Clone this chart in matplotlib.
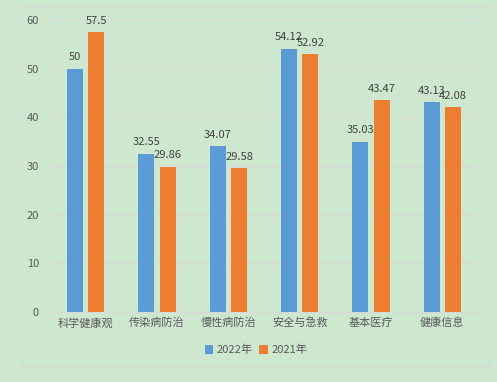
import matplotlib
matplotlib.use("Agg")
import matplotlib.pyplot as plt
from matplotlib.patches import Rectangle
import numpy as np

plt.rcParams['font.family'] = ['Noto Sans CJK SC', 'DejaVu Sans']

categories = ["科学健康观", "传染病防治", "慢性病防治", "安全与急救", "基本医疗", "健康信息"]
series_names = ["2022年", "2021年"]
values_2022 = [50, 32.55, 34.07, 54.12, 35.03, 43.13]
values_2021 = [57.5, 29.86, 29.58, 52.92, 43.47, 42.08]
labels_2022 = ["50", "32.55", "34.07", "54.12", "35.03", "43.13"]
labels_2021 = ["57.5", "29.86", "29.58", "52.92", "43.47", "42.08"]
yticks = [0, 10, 20, 30, 40, 50, 60]

bg = "#CDE8CF"
blue = "#5B9BD5"
orange = "#ED7D31"
txt = "#404040"
grid = "#D9D9D9"

fig = plt.figure(figsize=(4.97, 3.82), dpi=100, facecolor=bg)
fig.patches.append(Rectangle((22/497, 1-367/382), (489-22)/497, (367-7)/382,
                             transform=fig.transFigure, fill=False,
                             edgecolor=grid, linewidth=1.0))
ax = fig.add_axes([50/497, 1-312/382, (478-50)/497, (312-20)/382])
ax.set_facecolor(bg)

x = np.arange(len(categories))
w = 0.225
off = 0.15
b1 = ax.bar(x - off, values_2022, w, color=blue, label=series_names[0], zorder=3)
b2 = ax.bar(x + off, values_2021, w, color=orange, label=series_names[1], zorder=3)

for bars, labs in ((b1, labels_2022), (b2, labels_2021)):
    for rect, lab in zip(bars, labs):
        ax.annotate(lab, (rect.get_x() + rect.get_width()/2, rect.get_height()),
                    xytext=(0, 4.5), textcoords="offset points", ha="center", va="bottom",
                    fontsize=8, color=txt)

ax.set_xlim(-0.5, len(categories) - 0.5)
ax.set_ylim(0, 60)
ax.set_yticks(yticks)
ax.set_yticklabels([str(v) for v in yticks], fontsize=8, color="#595959")
ax.set_xticks(x)
ax.set_xticklabels(categories, fontsize=8, color="#595959")
ax.tick_params(axis='both', length=0)
ax.tick_params(axis='y', pad=8)
ax.tick_params(axis='x', pad=4)
ax.grid(axis='y', color=grid, linewidth=1.0, zorder=0)
for s in ["top", "right", "left"]:
    ax.spines[s].set_visible(False)
ax.spines["bottom"].set_color(grid)
ax.spines["bottom"].set_linewidth(1.0)

leg = fig.legend(handles=[b1, b2], labels=series_names, loc="center",
                 bbox_to_anchor=(256/497, 1-350/382), ncol=2, frameon=False,
                 fontsize=8, handlelength=0.8, handleheight=0.8,
                 handletextpad=0.3, columnspacing=0.6)
for t in leg.get_texts():
    t.set_color("#595959")

fig.savefig("out.png", dpi=100, facecolor=bg)
